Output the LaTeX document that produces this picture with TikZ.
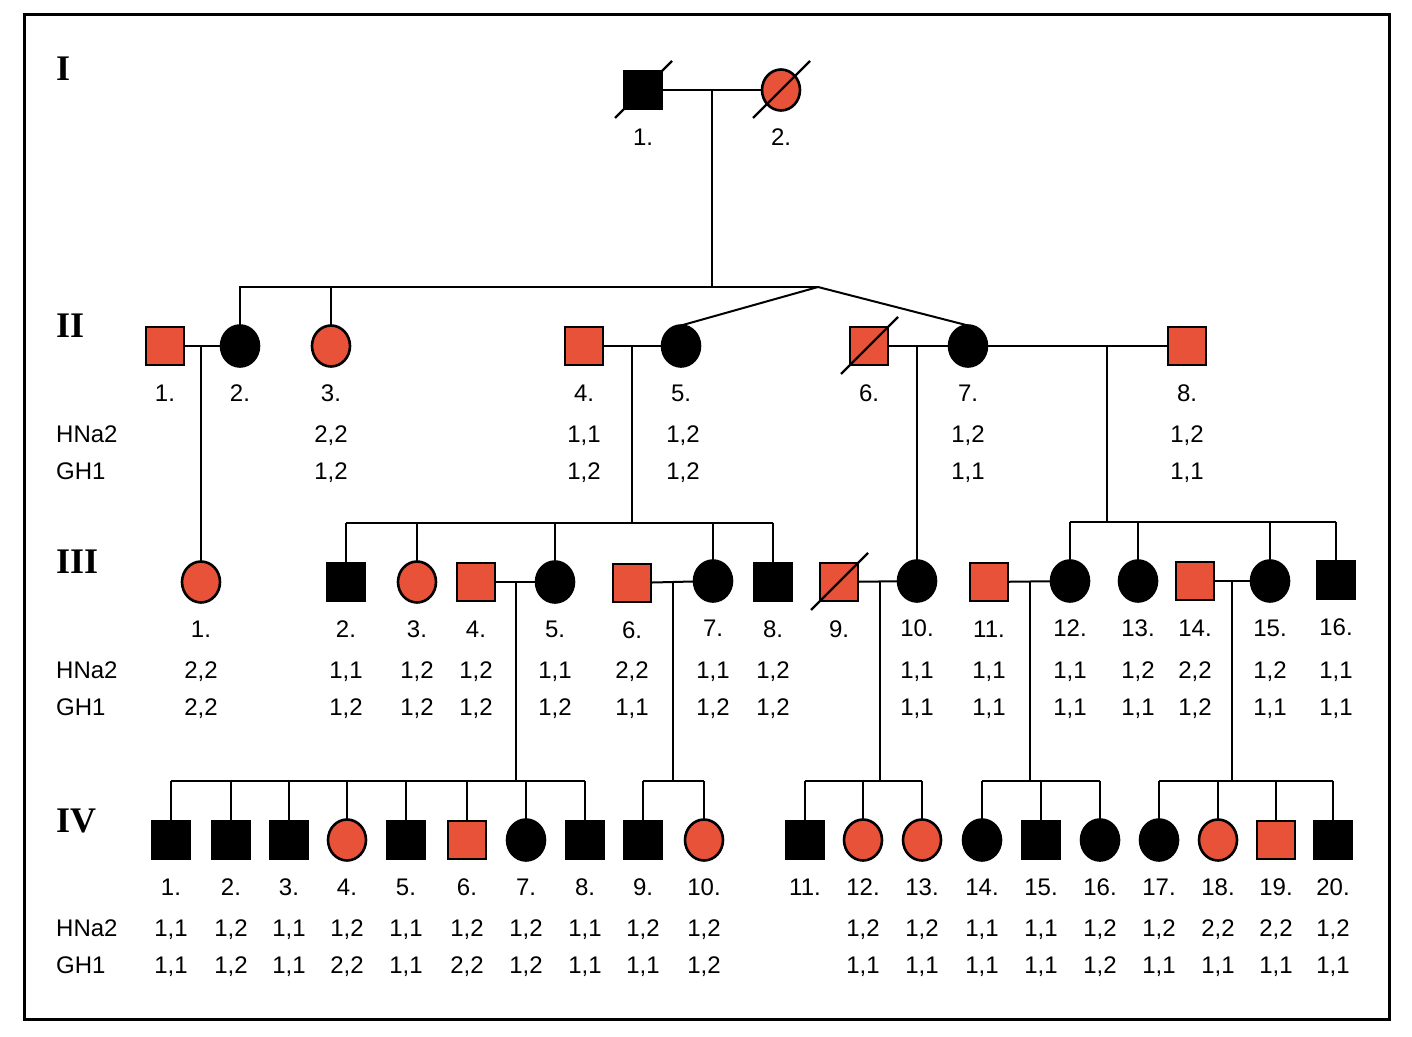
\documentclass[tikz,border=0pt]{standalone}
\usepackage{fontspec}
\setmainfont{Liberation Sans}
\newfontfamily\romfont{Liberation Serif}
\usetikzlibrary{shapes.geometric}
\definecolor{pedred}{RGB}{232,82,56}
\newcommand\pers[6]{% name, x, y, style, label
  \node[#4] (#1) at (#2,#3) {};
  \node[numtxt] (#1-l) at (#2,#3+55) {#5};
}
\newcommand\geno[5]{% name, x, y, hna, gh
  \node[numtxt] (#1-h) at (#2,#3+96) {#4};
  \node[numtxt] (#1-g) at (#2,#3+133) {#5};
}
\newcommand\dead[1]{%
  \draw[slashline] ([shift={(-28,28)}]#1.center) -- ([shift={(29,-29)}]#1.center);
}
\begin{document}
\begin{tikzpicture}[x=1pt,y=-1pt,
  base/.style={draw=black, line width=2.6pt, inner sep=0pt, outer sep=0pt},
  SA/.style={base, rectangle, minimum width=38pt, minimum height=38pt, fill=black},
  SU/.style={base, rectangle, minimum width=38pt, minimum height=38pt, fill=pedred},
  CA/.style={base, ellipse, minimum width=38pt, minimum height=41pt, fill=black},
  CU/.style={base, ellipse, minimum width=38pt, minimum height=41pt, fill=pedred},
  numtxt/.style={font=\fontsize{24}{28}\selectfont, anchor=base, inner sep=0pt},
  gentxt/.style={font=\romfont\bfseries\fontsize{36}{40}\selectfont, anchor=base west, inner sep=0pt},
  rowtxt/.style={font=\fontsize{24}{28}\selectfont, anchor=base west, inner sep=0pt},
  link/.style={line width=2pt},
  slashline/.style={line width=2.4pt}
]
\useasboundingbox (0,0) rectangle (1412,1036);
\fill[white] (0,0) rectangle (1412,1036);
\draw[line width=3pt] (24,14) rectangle (1389,1019);

% generation labels
\node[gentxt] (gI) at (56,80) {I};
\node[gentxt] (gII) at (56,337) {II};
\node[gentxt] (gIII) at (56,573) {III};
\node[gentxt] (gIV) at (56,832) {IV};

\node[rowtxt] (hII) at (56,442) {HNa2};
\node[rowtxt] (kII) at (56,479) {GH1};
\node[rowtxt] (hIII) at (56,678) {HNa2};
\node[rowtxt] (kIII) at (56,715) {GH1};
\node[rowtxt] (hIV) at (56,936) {HNa2};
\node[rowtxt] (kIV) at (56,973) {GH1};

% Generation I
\pers{I-1}{643}{90}{SA}{1.}{}
\pers{I-2}{781}{90}{CU}{2.}{}

% Generation II
\pers{II-1}{165}{346}{SU}{1.}{}
\pers{II-2}{240}{346}{CA}{2.}{}
\pers{II-3}{331}{346}{CU}{3.}{}
\pers{II-4}{584}{346}{SU}{4.}{}
\pers{II-5}{681}{346}{CA}{5.}{}
\pers{II-6}{869}{346}{SU}{6.}{}
\pers{II-7}{968}{346}{CA}{7.}{}
\pers{II-8}{1187}{346}{SU}{8.}{}
\geno{II-3}{331}{346}{2,2}{1,2}
\geno{II-4}{584}{346}{1,1}{1,2}
\geno{II-5}{683}{346}{1,2}{1,2}
\geno{II-7}{968}{346}{1,2}{1,1}
\geno{II-8}{1187}{346}{1,2}{1,1}

% Generation III
\pers{III-1}{201}{582}{CU}{1.}{}
\pers{III-2}{346}{582}{SA}{2.}{}
\pers{III-3}{417}{582}{CU}{3.}{}
\pers{III-4}{476}{582}{SU}{4.}{}
\pers{III-5}{555}{582}{CA}{5.}{}
\pers{III-6}{632}{583}{SU}{6.}{}
\pers{III-7}{713}{581}{CA}{7.}{}
\pers{III-8}{773}{582}{SA}{8.}{}
\pers{III-9}{839}{582}{SU}{9.}{}
\pers{III-10}{917}{581}{CA}{10.}{}
\pers{III-11}{989}{582}{SU}{11.}{}
\pers{III-12}{1070}{581}{CA}{12.}{}
\pers{III-13}{1138}{581}{CA}{13.}{}
\pers{III-14}{1195}{581}{SU}{14.}{}
\pers{III-15}{1270}{581}{CA}{15.}{}
\pers{III-16}{1336}{580}{SA}{16.}{}
\geno{III-1}{201}{582}{2,2}{2,2}
\geno{III-2}{346}{582}{1,1}{1,2}
\geno{III-3}{417}{582}{1,2}{1,2}
\geno{III-4}{476}{582}{1,2}{1,2}
\geno{III-5}{555}{582}{1,1}{1,2}
\geno{III-6}{632}{582}{2,2}{1,1}
\geno{III-7}{713}{582}{1,1}{1,2}
\geno{III-8}{773}{582}{1,2}{1,2}
\geno{III-10}{917}{582}{1,1}{1,1}
\geno{III-11}{989}{582}{1,1}{1,1}
\geno{III-12}{1070}{582}{1,1}{1,1}
\geno{III-13}{1138}{582}{1,2}{1,1}
\geno{III-14}{1195}{582}{2,2}{1,2}
\geno{III-15}{1270}{582}{1,2}{1,1}
\geno{III-16}{1336}{582}{1,1}{1,1}

% Generation IV
\pers{IV-1}{171}{840}{SA}{1.}{}
\pers{IV-2}{231}{840}{SA}{2.}{}
\pers{IV-3}{289}{840}{SA}{3.}{}
\pers{IV-4}{347}{840}{CU}{4.}{}
\pers{IV-5}{406}{840}{SA}{5.}{}
\pers{IV-6}{467}{840}{SU}{6.}{}
\pers{IV-7}{526}{840}{CA}{7.}{}
\pers{IV-8}{585}{840}{SA}{8.}{}
\pers{IV-9}{643}{840}{SA}{9.}{}
\pers{IV-10}{704}{840}{CU}{10.}{}
\pers{IV-11}{805}{840}{SA}{11.}{}
\pers{IV-12}{863}{840}{CU}{12.}{}
\pers{IV-13}{922}{840}{CU}{13.}{}
\pers{IV-14}{982}{840}{CA}{14.}{}
\pers{IV-15}{1041}{840}{SA}{15.}{}
\pers{IV-16}{1100}{840}{CA}{16.}{}
\pers{IV-17}{1159}{840}{CA}{17.}{}
\pers{IV-18}{1218}{840}{CU}{18.}{}
\pers{IV-19}{1276}{840}{SU}{19.}{}
\pers{IV-20}{1333}{840}{SA}{20.}{}
\geno{IV-1}{171}{840}{1,1}{1,1}
\geno{IV-2}{231}{840}{1,2}{1,2}
\geno{IV-3}{289}{840}{1,1}{1,1}
\geno{IV-4}{347}{840}{1,2}{2,2}
\geno{IV-5}{406}{840}{1,1}{1,1}
\geno{IV-6}{467}{840}{1,2}{2,2}
\geno{IV-7}{526}{840}{1,2}{1,2}
\geno{IV-8}{585}{840}{1,1}{1,1}
\geno{IV-9}{643}{840}{1,2}{1,1}
\geno{IV-10}{704}{840}{1,2}{1,2}
\geno{IV-12}{863}{840}{1,2}{1,1}
\geno{IV-13}{922}{840}{1,2}{1,1}
\geno{IV-14}{982}{840}{1,1}{1,1}
\geno{IV-15}{1041}{840}{1,1}{1,1}
\geno{IV-16}{1100}{840}{1,2}{1,2}
\geno{IV-17}{1159}{840}{1,2}{1,1}
\geno{IV-18}{1218}{840}{2,2}{1,1}
\geno{IV-19}{1276}{840}{2,2}{1,1}
\geno{IV-20}{1333}{840}{1,2}{1,1}

% deceased marks
\dead{I-1}
\dead{I-2}
\dead{II-6}
\dead{III-9}

% connectors
\begin{scope}[link]
% I
\coordinate (mI) at (712,90);
\coordinate (sII) at (712,287);
\coordinate (tw) at (818,287);
\draw (I-1) -- (I-2);
\draw (mI) -- (sII);
\draw (II-2.north) -- (II-2.north |- sII) -- (tw);
\draw (II-3.north) -- (II-3.north |- sII);
\draw (II-5.north) -- (tw) -- (II-7.north);
% II marriages
\coordinate (m12) at (201,346);
\draw (II-1) -- (II-2);
\draw (m12) -- (III-1.north);
\coordinate (m45) at (632,346);
\coordinate (sa) at (632,523);
\draw (II-4) -- (II-5);
\draw (m45) -- (sa);
\draw (III-2.north |- sa) -- (III-8.north |- sa);
\foreach \c in {III-2,III-3,III-5,III-7,III-8} \draw (\c.north) -- (\c.north |- sa);
\coordinate (m67) at (917,346);
\draw (II-6) -- (II-7);
\draw (m67) -- (III-10.north);
\coordinate (m78) at (1107,346);
\coordinate (sb) at (1107,522);
\draw (II-7) -- (II-8);
\draw (m78) -- (sb);
\draw (III-12.north |- sb) -- (III-16.north |- sb);
\foreach \c in {III-12,III-13,III-15,III-16} \draw (\c.north) -- (\c.north |- sb);
% III marriages
\coordinate (n45) at (516,582);
\coordinate (ta) at (516,781);
\draw (III-4) -- (III-5);
\draw (n45) -- (ta);
\draw (IV-1.north |- ta) -- (IV-8.north |- ta);
\foreach \c in {IV-1,IV-2,IV-3,IV-4,IV-5,IV-6,IV-7,IV-8} \draw (\c.north) -- (\c.north |- ta);
\coordinate (n67) at (673,582);
\coordinate (tb) at (673,781);
\draw (III-6) -- (III-7);
\draw (n67) -- (tb);
\draw (IV-9.north |- tb) -- (IV-10.north |- tb);
\foreach \c in {IV-9,IV-10} \draw (\c.north) -- (\c.north |- tb);
\coordinate (n910) at (880,582);
\coordinate (tc) at (880,781);
\draw (III-9) -- (III-10);
\draw (n910) -- (tc);
\draw (IV-11.north |- tc) -- (IV-13.north |- tc);
\foreach \c in {IV-11,IV-12,IV-13} \draw (\c.north) -- (\c.north |- tc);
\coordinate (n1112) at (1030,582);
\coordinate (td) at (1030,781);
\draw (III-11) -- (III-12);
\draw (n1112) -- (td);
\draw (IV-14.north |- td) -- (IV-16.north |- td);
\foreach \c in {IV-14,IV-15,IV-16} \draw (\c.north) -- (\c.north |- td);
\coordinate (n1415) at (1232,582);
\coordinate (te) at (1232,781);
\draw (III-14) -- (III-15);
\draw (n1415) -- (te);
\draw (IV-17.north |- te) -- (IV-20.north |- te);
\foreach \c in {IV-17,IV-18,IV-19,IV-20} \draw (\c.north) -- (\c.north |- te);
\end{scope}
\end{tikzpicture}
\end{document}
